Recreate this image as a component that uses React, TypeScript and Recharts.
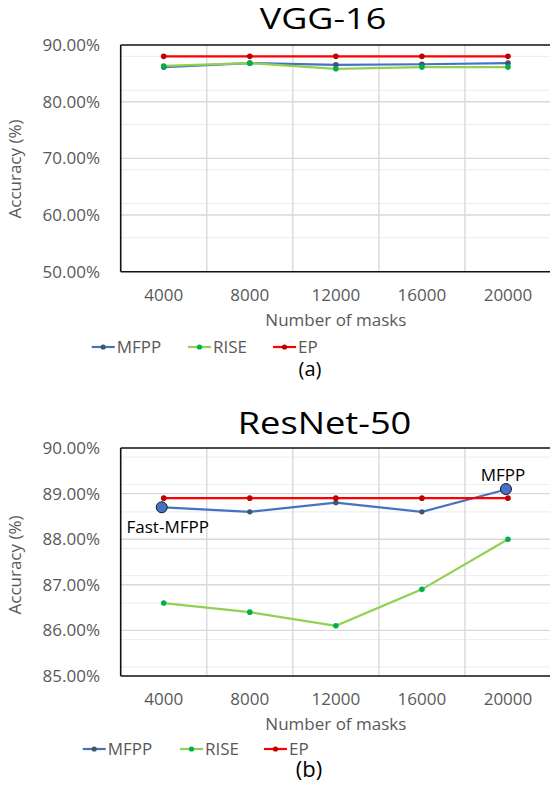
import React from "react";
import { LineChart, Line, XAxis, YAxis, CartesianGrid, Legend, ReferenceLine } from "recharts";

// number of masks on the x axis
const masks = [4000, 8000, 12000, 16000, 20000];

// (a) VGG-16 accuracy, %
const vggMfpp = [86.1, 86.8, 86.5, 86.6, 86.8];
const vggRise = [86.3, 86.8, 85.8, 86.1, 86.1];
const vggEp = [88.0, 88.0, 88.0, 88.0, 88.0];

// (b) ResNet-50 accuracy, %
const resMfpp = [88.7, 88.6, 88.8, 88.6, 89.1];
const resRise = [86.6, 86.4, 86.1, 86.9, 88.0];
const resEp = [88.9, 88.9, 88.9, 88.9, 88.9];

const vggTicks = [50, 60, 70, 80, 90];
const resTicks = [85, 86, 87, 88, 89, 90];

const seriesNames = ["MFPP", "RISE", "EP"];
const lineColors = ["#4472C4", "#92D050", "#FF0000"];
const dotColors = ["#44546A", "#00B050", "#C00000"];

// annotated MFPP points in (b)
const resHighlights = [
  { index: 0, text: "Fast-MFPP", below: true },
  { index: 4, text: "MFPP", below: false },
];

const FONT = "'Open Sans', sans-serif";
const GREY = "#595959";

type Row = { masks: number; MFPP: number; RISE: number; EP: number };

const toRows = (mfpp: number[], rise: number[], ep: number[]): Row[] =>
  masks.map((m, i) => ({ masks: m, MFPP: mfpp[i], RISE: rise[i], EP: ep[i] }));

const minorValues = (ticks: number[], step: number) => {
  const out: number[] = [];
  const lo = ticks[0];
  const hi = ticks[ticks.length - 1];
  const n = Math.round((hi - lo) / step);
  for (let i = 1; i < n; i++) {
    const v = +(lo + i * step).toFixed(4);
    if (!ticks.includes(v)) out.push(v);
  }
  return out;
};

interface PanelProps {
  title: string;
  caption: string;
  rows: Row[];
  ticks: number[];
  minorStep: number;
  height: number;
  plotTop: number;
  plotBottom: number;
  titleSize: number;
  titleY: number;
  titleScale: number;
  titleX: number;
  captionSize: number;
  captionY: number;
  captionX: number;
  legendTop: number;
  legendX: number[];
  yTitleY: number;
  highlights?: { index: number; text: string; below: boolean }[];
}

const W = 560;
const PLOT_LEFT = 120.7;
const X_AXIS_H = 50;

const Panel: React.FC<PanelProps> = (p) => {
  const lo = p.ticks[0];
  const hi = p.ticks[p.ticks.length - 1];
  const majors = p.ticks.slice(1, -1);
  const minors = minorValues(p.ticks, p.minorStep);

  const renderLegend = () => (
    <svg width={550} height={24} style={{ display: "block", overflow: "visible" }}>
      {seriesNames.map((name, i) => {
        const x0 = p.legendX[i];
        return (
          <g key={name}>
            <line x1={x0} x2={x0 + 23} y1={12} y2={12} stroke={lineColors[i]} strokeWidth={2.2} />
            <circle cx={x0 + 11.5} cy={12} r={2.6} fill={dotColors[i]} />
            <text x={x0 + 25} y={18} fontSize={17} fill={GREY} fontFamily={FONT}>
              {name}
            </text>
          </g>
        );
      })}
    </svg>
  );

  const mfppDot = (props: any) => {
    const { cx, cy, index } = props;
    const hl = p.highlights?.find((h) => h.index === index);
    if (!hl) return <circle key={`d${index}`} cx={cx} cy={cy} r={2.6} fill={dotColors[0]} />;
    return (
      <g key={`d${index}`}>
        <circle cx={cx - 2} cy={cy} r={5.5} fill="#4472C4" stroke="#1a1a1a" strokeWidth={1} />
        <text
          x={hl.below ? cx + 4 : cx - 5}
          y={hl.below ? cy + 26 : cy - 8}
          textAnchor="middle"
          fontSize={17}
          fill="#000"
          fontFamily={FONT}
        >
          {hl.text}
        </text>
      </g>
    );
  };

  return (
    <div style={{ width: 550, height: p.height, overflow: "hidden", position: "relative" }}>
      <LineChart
        width={W}
        height={p.height}
        data={p.rows}
        margin={{ top: p.plotTop, right: W - 551, bottom: p.height - p.plotBottom - X_AXIS_H, left: 0 }}
      >
        <CartesianGrid horizontalValues={minors} vertical={false} stroke="#efefef" strokeWidth={1.2} />
        <CartesianGrid
          horizontalValues={majors}
          verticalValues={[6000, 10000, 14000, 18000]}
          stroke="#d9d9d9"
          strokeWidth={1.4}
        />
        <XAxis
          dataKey="masks"
          type="number"
          domain={[2000, 22000]}
          ticks={masks}
          height={X_AXIS_H}
          tickSize={0}
          tickMargin={17.3}
          axisLine={{ stroke: "#111", strokeWidth: 1.6 }}
          tick={{ fill: GREY, fontSize: 17, fontFamily: FONT }}
          label={{
            content: () => (
              <text
                x={(PLOT_LEFT + 551) / 2}
                y={p.plotBottom + 54}
                textAnchor="middle"
                fontSize={17}
                fill={GREY}
                fontFamily={FONT}
              >
                Number of masks
              </text>
            ),
          }}
        />
        <YAxis
          type="number"
          domain={[lo, hi]}
          ticks={p.ticks}
          width={PLOT_LEFT}
          tickSize={0}
          tickMargin={20.7}
          axisLine={{ stroke: "#111", strokeWidth: 1.6 }}
          tick={{ fill: GREY, fontSize: 17, fontFamily: FONT }}
          tickFormatter={(v: number) => `${v.toFixed(2)}%`}
          label={{
            content: () => (
              <text
                x={21}
                y={p.yTitleY}
                transform={`rotate(-90, 21, ${p.yTitleY})`}
                textAnchor="middle"
                fontSize={17}
                fill={GREY}
                fontFamily={FONT}
              >
                Accuracy (%)
              </text>
            ),
          }}
        />
        <ReferenceLine y={hi} stroke="#111" strokeWidth={1.6} />
        <Legend
          layout="horizontal"
          verticalAlign="middle"
          content={renderLegend}
          wrapperStyle={{ top: p.legendTop, left: 0, width: 550 }}
        />
        <Line
          dataKey="MFPP"
          stroke={lineColors[0]}
          strokeWidth={2.2}
          dot={p.highlights ? mfppDot : { r: 2.8, fill: dotColors[0], stroke: "none" }}
          isAnimationActive={false}
        />
        <Line
          dataKey="RISE"
          stroke={lineColors[1]}
          strokeWidth={2.2}
          dot={{ r: 2.8, fill: dotColors[1], stroke: "none" }}
          isAnimationActive={false}
        />
        <Line
          dataKey="EP"
          stroke={lineColors[2]}
          strokeWidth={2.2}
          dot={{ r: 2.8, fill: dotColors[2], stroke: "none" }}
          isAnimationActive={false}
        />
        <text
          transform={`translate(${p.titleX}, ${p.titleY}) scale(${p.titleScale}, 1)`}
          textAnchor="middle"
          fontSize={p.titleSize}
          fill="#000"
          fontFamily={FONT}
        >
          {p.title}
        </text>
        <text x={p.captionX} y={p.captionY} textAnchor="middle" fontSize={p.captionSize} fill="#000" fontFamily={FONT}>
          {p.caption}
        </text>
      </LineChart>
    </div>
  );
};

export default function App() {
  return (
    <div style={{ position: "absolute", left: 0, top: 0, width: 550, height: 785, background: "#fff", fontFamily: FONT }}>
      <Panel
        title="VGG-16"
        caption="(a)"
        rows={toRows(vggMfpp, vggRise, vggEp)}
        ticks={vggTicks}
        minorStep={2}
        height={390}
        plotTop={45}
        plotBottom={271.7}
        titleSize={29}
        titleY={29.3}
        titleScale={1.24}
        titleX={323}
        captionSize={20}
        captionY={375.5}
        captionX={310}
        legendTop={335.3}
        legendX={[91.7, 188, 273]}
        yTitleY={169}
      />
      <Panel
        title="ResNet-50"
        caption="(b)"
        rows={toRows(resMfpp, resRise, resEp)}
        ticks={resTicks}
        minorStep={0.2}
        height={395}
        plotTop={58}
        plotBottom={286}
        titleSize={31}
        titleY={44.3}
        titleScale={1.17}
        titleX={324.5}
        captionSize={22}
        captionY={387}
        captionX={309}
        legendTop={347.3}
        legendX={[82.7, 180, 264]}
        yTitleY={175}
        highlights={resHighlights}
      />
    </div>
  );
}
